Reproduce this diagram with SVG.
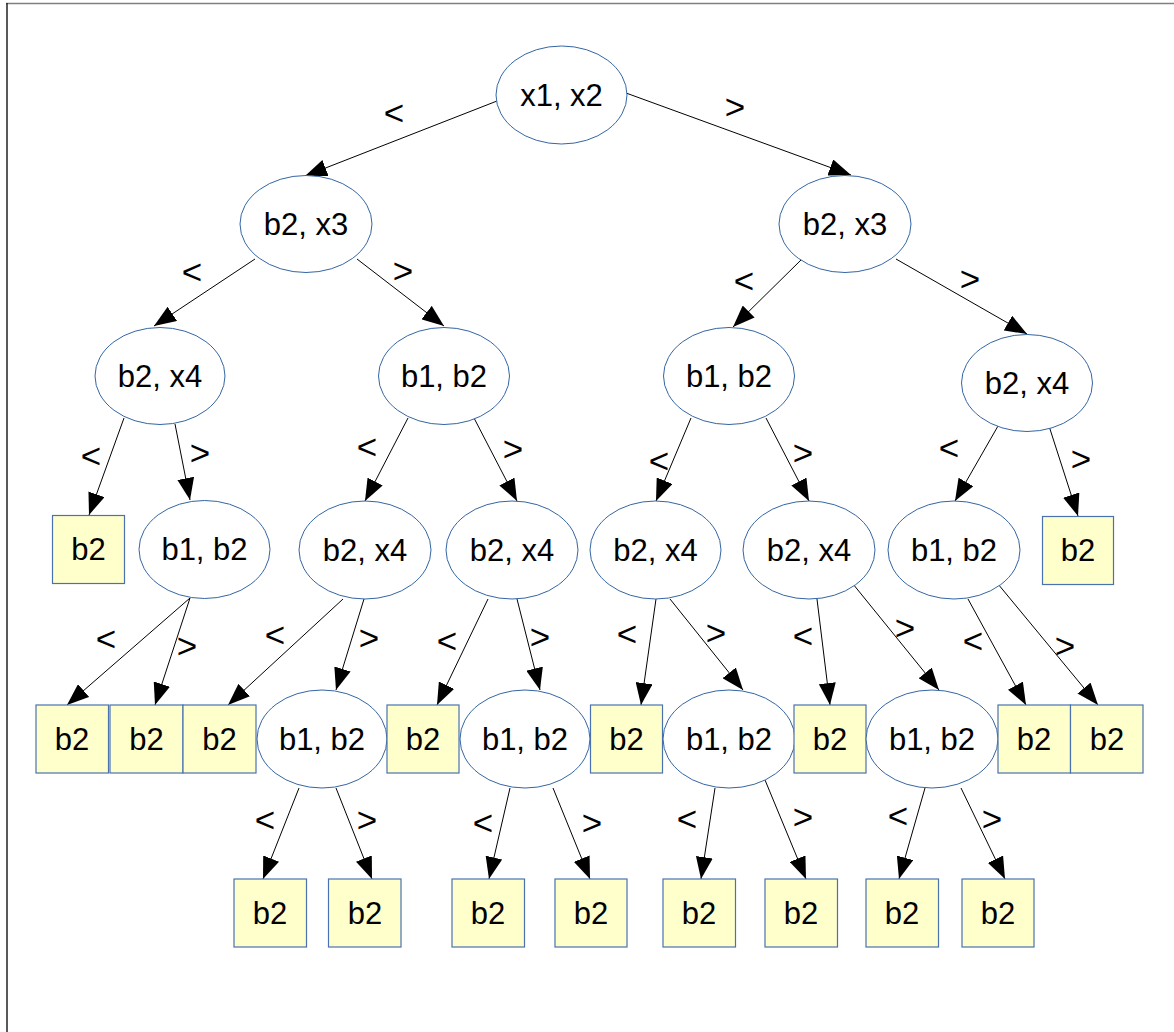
<svg xmlns="http://www.w3.org/2000/svg" width="1174" height="1032" viewBox="0 0 1174 1032">
  <style>
    .ell { fill: #ffffff; stroke: #3465a4; stroke-width: 1; }
    .box { fill: #ffffcc; stroke: #4a72b0; stroke-width: 1.2; }
    .txt { font-family: "Liberation Sans", Arial, sans-serif; font-size: 31px; fill: #000; text-anchor: middle; dominant-baseline: central; }
    .lbl { font-family: "Liberation Sans", Arial, sans-serif; font-size: 35px; fill: #000; text-anchor: middle; dominant-baseline: central; }
    .edge { stroke: #000; stroke-width: 1; fill: none; marker-end: url(#arrow); }
  </style>
  <defs>
    <marker id="arrow" viewBox="0 0 22 17" markerWidth="22" markerHeight="17" refX="22" refY="8.5" orient="auto" markerUnits="userSpaceOnUse">
      <path d="M0,0 L22,8.5 L0,17 Z" fill="#000"/>
    </marker>
  </defs>
  <rect x="0" y="0" width="1174" height="1032" fill="#ffffff"/>
  <!-- frame -->
  <line x1="6" y1="3.5" x2="1174" y2="3.5" stroke="#808080" stroke-width="1.5"/>
  <line x1="7" y1="3" x2="7" y2="1032" stroke="#222" stroke-width="1.5"/>

  <!-- connectors -->
  <g id="connectors">
    <line class="edge" x1="497" y1="101" x2="305" y2="176"/>
    <line class="edge" x1="626" y1="93" x2="851" y2="175"/>
    <line class="edge" x1="255" y1="259" x2="154" y2="326"/>
    <line class="edge" x1="357" y1="259" x2="444" y2="326"/>
    <line class="edge" x1="802" y1="259" x2="733" y2="327"/>
    <line class="edge" x1="896" y1="259" x2="1027" y2="334"/>
    <line class="edge" x1="124" y1="418" x2="89" y2="515"/>
    <line class="edge" x1="175" y1="424" x2="190" y2="500"/>
    <line class="edge" x1="408" y1="418" x2="365" y2="501"/>
    <line class="edge" x1="474" y1="418" x2="517" y2="501"/>
    <line class="edge" x1="691" y1="418" x2="656" y2="501"/>
    <line class="edge" x1="766" y1="418" x2="809" y2="501"/>
    <line class="edge" x1="998" y1="426" x2="955" y2="501"/>
    <line class="edge" x1="1049" y1="426" x2="1078" y2="516"/>
    <line class="edge" x1="190" y1="598" x2="67" y2="705"/>
    <line class="edge" x1="190" y1="598" x2="155" y2="705"/>
    <line class="edge" x1="343" y1="599" x2="228" y2="705"/>
    <line class="edge" x1="364" y1="599" x2="336" y2="690"/>
    <line class="edge" x1="488" y1="599" x2="437" y2="705"/>
    <line class="edge" x1="517" y1="599" x2="540" y2="690"/>
    <line class="edge" x1="656" y1="599" x2="641" y2="705"/>
    <line class="edge" x1="670" y1="599" x2="743" y2="690"/>
    <line class="edge" x1="816" y1="591" x2="830" y2="705"/>
    <line class="edge" x1="853" y1="584" x2="939" y2="690"/>
    <line class="edge" x1="968" y1="599" x2="1026" y2="705"/>
    <line class="edge" x1="998" y1="584" x2="1098" y2="705"/>
    <line class="edge" x1="299" y1="788" x2="263" y2="879"/>
    <line class="edge" x1="336" y1="788" x2="372" y2="879"/>
    <line class="edge" x1="510" y1="788" x2="489" y2="879"/>
    <line class="edge" x1="553" y1="788" x2="590" y2="879"/>
    <line class="edge" x1="715" y1="788" x2="701" y2="879"/>
    <line class="edge" x1="765" y1="780" x2="806" y2="879"/>
    <line class="edge" x1="925" y1="788" x2="899" y2="879"/>
    <line class="edge" x1="961" y1="788" x2="1005" y2="879"/>
  </g>

  <!-- connector labels -->
  <g id="edge-labels">
    <text class="lbl" x="394" y="112">&lt;</text>
    <text class="lbl" x="735" y="106">&gt;</text>
    <text class="lbl" x="192" y="271">&lt;</text>
    <text class="lbl" x="403" y="270">&gt;</text>
    <text class="lbl" x="744" y="280">&lt;</text>
    <text class="lbl" x="970" y="278">&gt;</text>
    <text class="lbl" x="91" y="455">&lt;</text>
    <text class="lbl" x="200" y="452">&gt;</text>
    <text class="lbl" x="367" y="446">&lt;</text>
    <text class="lbl" x="513" y="448">&gt;</text>
    <text class="lbl" x="659" y="460">&lt;</text>
    <text class="lbl" x="803" y="452">&gt;</text>
    <text class="lbl" x="949" y="447">&lt;</text>
    <text class="lbl" x="1081" y="458">&gt;</text>
    <text class="lbl" x="106" y="638">&lt;</text>
    <text class="lbl" x="187" y="645">&gt;</text>
    <text class="lbl" x="275" y="634">&lt;</text>
    <text class="lbl" x="369" y="637">&gt;</text>
    <text class="lbl" x="447" y="640">&lt;</text>
    <text class="lbl" x="540" y="636">&gt;</text>
    <text class="lbl" x="627" y="633">&lt;</text>
    <text class="lbl" x="716" y="632">&gt;</text>
    <text class="lbl" x="803" y="635">&lt;</text>
    <text class="lbl" x="905" y="627">&gt;</text>
    <text class="lbl" x="973" y="640">&lt;</text>
    <text class="lbl" x="1065" y="645">&gt;</text>
    <text class="lbl" x="265" y="819">&lt;</text>
    <text class="lbl" x="367" y="819">&gt;</text>
    <text class="lbl" x="483" y="822">&lt;</text>
    <text class="lbl" x="592" y="822">&gt;</text>
    <text class="lbl" x="687" y="818">&lt;</text>
    <text class="lbl" x="803" y="816">&gt;</text>
    <text class="lbl" x="898" y="815">&lt;</text>
    <text class="lbl" x="992" y="818">&gt;</text>
  </g>

  <!-- level 0 -->
  <g id="n-root"><ellipse class="ell" cx="561.5" cy="95" rx="65.5" ry="49"/><text class="txt" x="561.5" y="95">x1, x2</text></g>
  <!-- level 1 -->
  <g id="n-l"><ellipse class="ell" cx="306" cy="224" rx="66" ry="48.5"/><text class="txt" x="306" y="224">b2, x3</text></g>
  <g id="n-r"><ellipse class="ell" cx="845" cy="224" rx="66" ry="48.5"/><text class="txt" x="845" y="224">b2, x3</text></g>
  <!-- level 2 -->
  <g id="n-ll"><ellipse class="ell" cx="160" cy="376" rx="65" ry="48.5"/><text class="txt" x="160" y="376">b2, x4</text></g>
  <g id="n-lr"><ellipse class="ell" cx="444" cy="376" rx="65.5" ry="48.5"/><text class="txt" x="444" y="376">b1, b2</text></g>
  <g id="n-rl"><ellipse class="ell" cx="729" cy="376" rx="65.5" ry="48.5"/><text class="txt" x="729" y="376">b1, b2</text></g>
  <g id="n-rr"><ellipse class="ell" cx="1027" cy="383" rx="65.5" ry="48.5"/><text class="txt" x="1027" y="383">b2, x4</text></g>
  <!-- level 3 -->
  <g id="n-lll"><rect class="box" x="52.5" y="515.5" width="72" height="68"/><text class="txt" x="88.5" y="549.5">b2</text></g>
  <g id="n-llr"><ellipse class="ell" cx="204.5" cy="549.5" rx="65.5" ry="49"/><text class="txt" x="204.5" y="549.5">b1, b2</text></g>
  <g id="n-lrl"><ellipse class="ell" cx="365" cy="550" rx="66" ry="49"/><text class="txt" x="365" y="550">b2, x4</text></g>
  <g id="n-lrr"><ellipse class="ell" cx="512" cy="550" rx="66" ry="49"/><text class="txt" x="512" y="550">b2, x4</text></g>
  <g id="n-rll"><ellipse class="ell" cx="655.5" cy="550" rx="65.5" ry="49"/><text class="txt" x="655.5" y="550">b2, x4</text></g>
  <g id="n-rlr"><ellipse class="ell" cx="809" cy="550" rx="66" ry="49"/><text class="txt" x="809" y="550">b2, x4</text></g>
  <g id="n-rrl"><ellipse class="ell" cx="954" cy="550" rx="66" ry="49"/><text class="txt" x="954" y="550">b1, b2</text></g>
  <g id="n-rrr"><rect class="box" x="1042.5" y="516.5" width="71" height="68"/><text class="txt" x="1078" y="550.5">b2</text></g>
  <!-- level 4 -->
  <g id="n-4a"><rect class="box" x="36" y="705" width="72.5" height="68"/><text class="txt" x="72" y="739">b2</text></g>
  <g id="n-4b"><rect class="box" x="110" y="705" width="73" height="68"/><text class="txt" x="146.5" y="739">b2</text></g>
  <g id="n-4c"><rect class="box" x="183" y="705" width="73" height="68"/><text class="txt" x="219.5" y="739">b2</text></g>
  <g id="n-4d"><ellipse class="ell" cx="322" cy="739" rx="65" ry="49"/><text class="txt" x="322" y="739">b1, b2</text></g>
  <g id="n-4e"><rect class="box" x="387" y="705" width="72" height="68"/><text class="txt" x="423" y="739">b2</text></g>
  <g id="n-4f"><ellipse class="ell" cx="525" cy="739" rx="65" ry="49"/><text class="txt" x="525" y="739">b1, b2</text></g>
  <g id="n-4g"><rect class="box" x="590.5" y="705" width="72" height="68"/><text class="txt" x="626.5" y="739">b2</text></g>
  <g id="n-4h"><ellipse class="ell" cx="729" cy="739" rx="66" ry="49"/><text class="txt" x="729" y="739">b1, b2</text></g>
  <g id="n-4i"><rect class="box" x="794" y="705" width="72" height="68"/><text class="txt" x="830" y="739">b2</text></g>
  <g id="n-4j"><ellipse class="ell" cx="932" cy="739" rx="66" ry="49"/><text class="txt" x="932" y="739">b1, b2</text></g>
  <g id="n-4k"><rect class="box" x="998" y="705" width="72.5" height="68"/><text class="txt" x="1034" y="739">b2</text></g>
  <g id="n-4l"><rect class="box" x="1070.5" y="705" width="72.5" height="68"/><text class="txt" x="1107" y="739">b2</text></g>
  <!-- level 5 -->
  <g id="n-5a"><rect class="box" x="234" y="879" width="72.5" height="68"/><text class="txt" x="270" y="913">b2</text></g>
  <g id="n-5b"><rect class="box" x="328.5" y="879" width="72.5" height="68"/><text class="txt" x="365" y="913">b2</text></g>
  <g id="n-5c"><rect class="box" x="452" y="879" width="72.5" height="68"/><text class="txt" x="488" y="913">b2</text></g>
  <g id="n-5d"><rect class="box" x="555" y="879" width="72" height="68"/><text class="txt" x="591" y="913">b2</text></g>
  <g id="n-5e"><rect class="box" x="663" y="879" width="72.5" height="68"/><text class="txt" x="699" y="913">b2</text></g>
  <g id="n-5f"><rect class="box" x="765" y="879" width="72.5" height="68"/><text class="txt" x="801" y="913">b2</text></g>
  <g id="n-5g"><rect class="box" x="866" y="879" width="72.5" height="68"/><text class="txt" x="902" y="913">b2</text></g>
  <g id="n-5h"><rect class="box" x="962" y="879" width="72" height="68"/><text class="txt" x="998" y="913">b2</text></g>
</svg>
